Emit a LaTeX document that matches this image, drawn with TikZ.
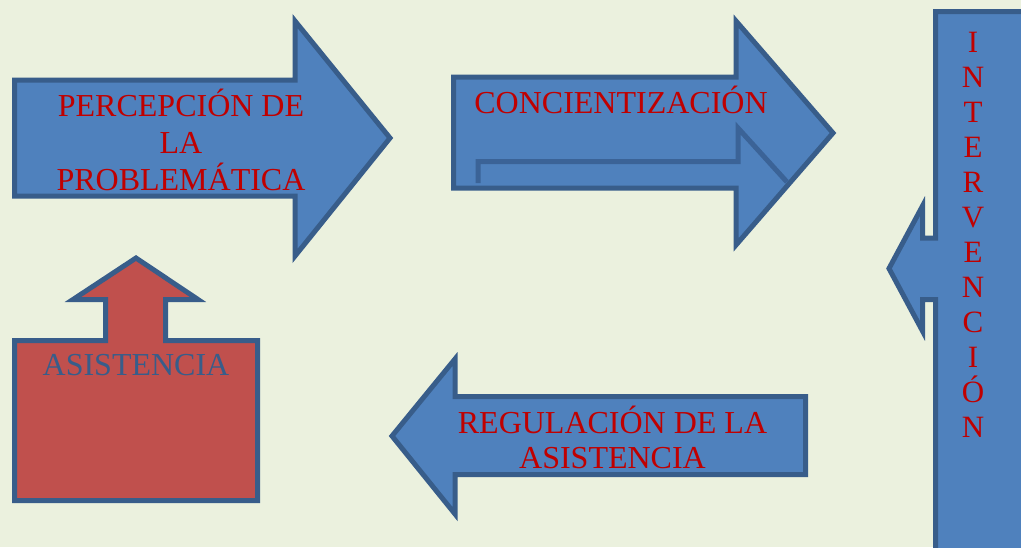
\documentclass[tikz,border=0pt]{standalone}
\usepackage{fontspec}
\setmainfont{Liberation Serif}
\definecolor{bg}{HTML}{EBF1DE}
\definecolor{bfill}{HTML}{4F81BD}
\definecolor{bline}{HTML}{385D8A}
\definecolor{bevel}{HTML}{3B6397}
\definecolor{rfill}{HTML}{C0504D}
\definecolor{txtred}{HTML}{C00000}
\begin{document}
\begin{tikzpicture}[x=1pt,y=-1pt,
  blueshape/.style={fill=bfill,draw=bline,line width=5pt,line join=miter},
  redshape/.style={fill=rfill,draw=bline,line width=5pt,line join=miter},
  bevelline/.style={draw=bevel,line width=5pt,line join=miter},
  lbl/.style={text=txtred,font=\fontsize{32}{37}\selectfont,align=center,inner sep=0pt,anchor=base}]
\useasboundingbox (0,0) rectangle (1021,547);
\fill[bg] (0,0) rectangle (1021,547);
\clip (0,0) rectangle (1021,547);
% arrow 1
\draw[blueshape] (14.5,80) -- (295,80) -- (295,21) -- (390,138) -- (295,256) -- (295,196) -- (14.5,196) -- cycle;
% arrow 2
\draw[blueshape] (453.5,77) -- (736,77) -- (736,21) -- (833,133) -- (736,245) -- (736,188) -- (453.5,188) -- cycle;
\draw[bevelline] (478,183) -- (478,161.5) -- (738,161.5) -- (738,128) -- (787,182);
% intervencion
\draw[blueshape] (1030,11.5) -- (935.5,11.5) -- (935.5,238) -- (922.5,238) -- (922.5,206) -- (889,268.5) -- (922.5,331) -- (922.5,299.5) -- (935.5,299.5) -- (935.5,560) -- (1030,560) -- cycle;
% asistencia
\draw[redshape] (14.5,340.5) -- (105.5,340.5) -- (105.5,299.5) -- (73,299.5) -- (136,258) -- (198,299.5) -- (165.5,299.5) -- (165.5,340.5) -- (257.5,340.5) -- (257.5,500.5) -- (14.5,500.5) -- cycle;
% regulacion
\draw[blueshape] (805.5,396.5) -- (455,396.5) -- (455,359) -- (392,436) -- (455,514) -- (455,474.5) -- (805.5,474.5) -- cycle;
% texts (anchor=base is the baseline of the last line)
\node[lbl] (t1) at (181,190) {PERCEPCIÓN DE\\LA\\PROBLEMÁTICA};
\node[lbl] (t2) at (621,113) {CONCIENTIZACIÓN};
\node[lbl,font=\fontsize{31}{35}\selectfont] (t3) at (973,437) {I\\N\\T\\E\\R\\V\\E\\N\\C\\I\\Ó\\N};
\node[lbl,text=bline] (t4) at (136,375) {ASISTENCIA};
\node[lbl,font=\fontsize{32}{35}\selectfont] (t5) at (612.5,468) {REGULACIÓN DE LA\\ASISTENCIA};
\end{tikzpicture}
\end{document}
